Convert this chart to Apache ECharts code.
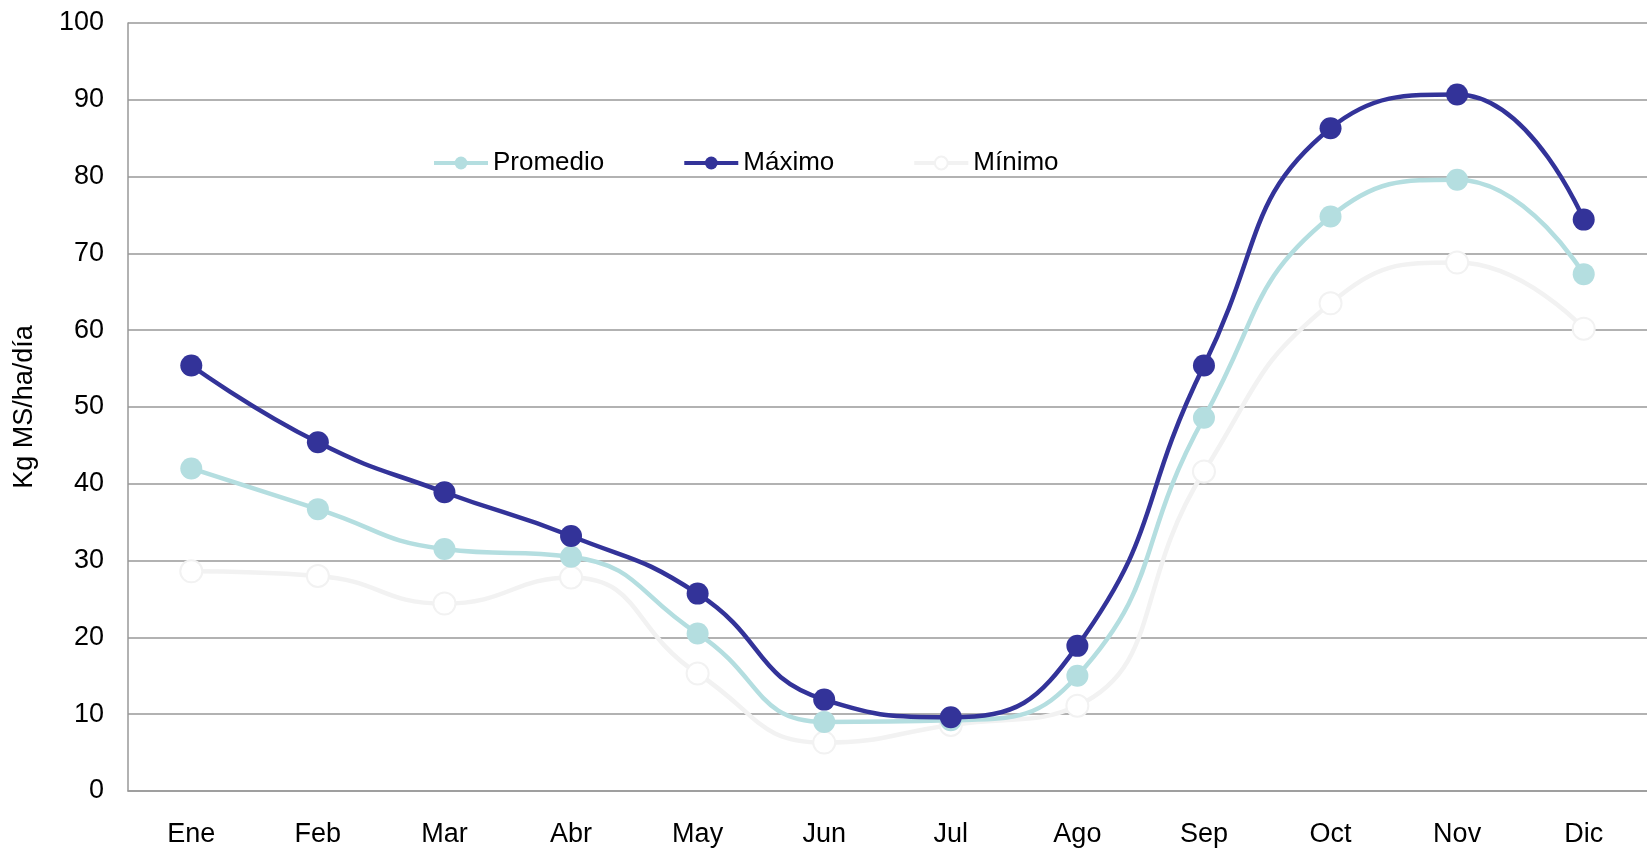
<!DOCTYPE html>
<html><head><meta charset="utf-8">
<script src="https://cdn.jsdelivr.net/npm/echarts@6/dist/echarts.min.js"></script>
<style>html,body{margin:0;padding:0;background:#fff}#c{width:1647px;height:848px}</style>
</head><body><div id="c"></div>
<script>
const categories = ['Ene','Feb','Mar','Abr','May','Jun','Jul','Ago','Sep','Oct','Nov','Dic'];
const promedio = [42.0, 36.7, 31.5, 30.5, 20.5, 9.0, 9.2, 15.0, 48.6, 74.8, 79.6, 67.3];
const maximo   = [55.4, 45.4, 38.9, 33.2, 25.7, 11.9, 9.6, 18.9, 55.4, 86.3, 90.7, 74.4];
const minimo   = [28.6, 28.0, 24.4, 27.8, 15.3, 6.3, 8.6, 11.1, 41.6, 63.5, 68.8, 60.2];
const yTicks = [0,10,20,30,40,50,60,70,80,90,100];

const font = 'Liberation Sans, Arial, sans-serif';
const chart = echarts.init(document.getElementById('c'), null, {renderer:'canvas'});
function s(name, data, color, fill, border){
  return {name, type:'line', data, smooth:0.5, symbol:'circle', symbolSize:22,
    lineStyle:{color, width:4.5}, itemStyle:{color:fill, borderColor:border||fill, borderWidth:border?2:0},
    emphasis:{disabled:true}, z: name==='Máximo'?4:(name==='Promedio'?3:2)};
}
chart.setOption({
  animation:false,
  grid:{left:128, right:0, top:23, bottom:57, containLabel:false},
  legend:{left:427, top:145, itemWidth:54, itemHeight:16, itemGap:78,
    lineStyle:{width:4},
    textStyle:{fontFamily:font, fontSize:26, color:'#000', padding:[0,0,0,0]},
    data:['Promedio','Máximo','Mínimo']},
  xAxis:{type:'category', data:categories, boundaryGap:true,
    axisLine:{lineStyle:{color:'#999', width:1.5}}, axisTick:{show:false},
    axisLabel:{fontFamily:font, fontSize:27, color:'#000', margin:30}},
  yAxis:{type:'value', min:0, max:100, interval:10,
    name:'Kg MS/ha/día', nameLocation:'middle', nameGap:90, nameRotate:90,
    nameTextStyle:{fontFamily:font, fontSize:27, color:'#000'},
    axisLine:{show:true, lineStyle:{color:'#999', width:1.5}}, axisTick:{show:false},
    axisLabel:{fontFamily:font, fontSize:27, color:'#000', margin:24,
      formatter:v=>yTicks.includes(v)?String(v):''},
    splitLine:{lineStyle:{color:'#999', width:1.5}}},
  series:[
    s('Promedio', promedio, '#B4DEE0', '#B4DEE0', null),
    s('Máximo', maximo, '#333399', '#333399', null),
    s('Mínimo', minimo, '#F2F2F2', '#FFFFFF', '#F2F2F2')
  ]
});
</script></body></html>
